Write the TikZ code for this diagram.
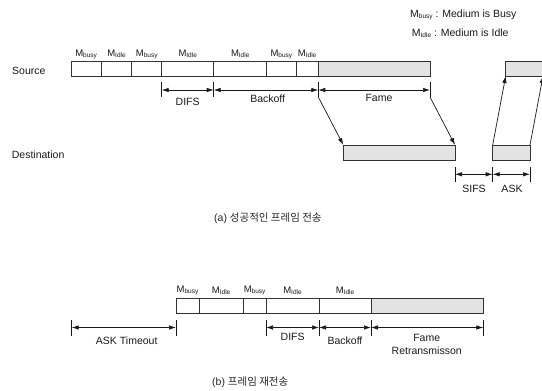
\documentclass[tikz,border=0pt]{standalone}
\usepackage{fontspec}
\setmainfont{Liberation Sans}
\newfontfamily\kofont{Noto Sans CJK KR}
\usetikzlibrary{arrows.meta}
\newcommand{\Msb}[1]{M\raisebox{-0.9pt}{\fontsize{6.5}{7}\selectfont #1}}
\begin{document}
\begin{tikzpicture}[x=1pt,y=-1pt,
  cellbox/.style={draw=black!80, line width=0.9pt, inner sep=0pt, outer sep=0pt, anchor=north west},
  framebox/.style={draw=black!80, fill=black!11, line width=0.9pt, inner sep=0pt, outer sep=0pt, anchor=north west},
  txt/.style={font=\fontsize{10.5}{12}\selectfont, inner sep=0pt, text=black!90},
  mlbl/.style={font=\fontsize{9.5}{11}\selectfont, inner sep=0pt, text=black!90},
  captxt/.style={font=\fontsize{10.5}{12}\selectfont, inner sep=0pt, text=black!85, anchor=west},
  dimline/.style={{Latex[length=7pt,width=4.5pt]}-{Latex[length=7pt,width=4.5pt]}, line width=0.7pt, draw=black!90},
  tickline/.style={line width=0.7pt, draw=black!90},
  sendarrow/.style={-{Latex[length=7pt,width=4.5pt]}, line width=0.7pt, draw=black!90}]
\clip (0,0) rectangle (542,391);

% ---------- legend ----------
\node[txt, anchor=west] (leg1) at (410,15) {\Msb{busy} : Medium is Busy};
\node[txt, anchor=west] (leg2) at (411.7,33) {\Msb{Idle} : Medium is Idle};

% ---------- (a) ----------
\node[txt, anchor=west] (src) at (12,70.7) {Source};
\node[txt, anchor=west] (dst) at (11.7,155) {Destination};

% source cells
\foreach \a/\b/\l [count=\i] in {71/101.3/busy, 101.3/131.7/Idle, 131.7/161.7/busy, 161.7/213.7/Idle, 213.7/266.7/Idle, 266.7/296/busy, 296/318.3/Idle}{
  \node[cellbox, minimum width={(\b-\a)*1pt}, minimum height=14.5pt] (sc\i) at (\a,61.5) {};
  \node[mlbl] (sl\i) at ({(\a+\b)/2},54) {\Msb{\l}};
}
\node[framebox, minimum width=111.7pt, minimum height=14.5pt] (sf) at (318.3,61.5) {};
\node[framebox, minimum width=40pt, minimum height=14.5pt] (sa) at (505.7,61.5) {};

% destination frames
\node[framebox, minimum width=111.7pt, minimum height=15pt] (df) at (343.3,145) {};
\node[framebox, minimum width=37.3pt, minimum height=15pt] (da) at (492.7,145) {};

% ticks (a) top
\coordinate (t1a) at (161.7,81.5); \coordinate (t1b) at (161.7,97);
\coordinate (t2a) at (213.7,81.5); \coordinate (t2b) at (213.7,97);
\coordinate (t3a) at (318.3,81.5); \coordinate (t3b) at (318.3,97);
\coordinate (t4a) at (430,81.5);   \coordinate (t4b) at (430,97);
\foreach \k in {1,2,3,4} \draw[tickline] (t\k a) -- (t\k b);
\draw[dimline] (161.7,90) -- (213.7,90);
\draw[dimline] (213.7,90) -- (318.3,90);
\draw[dimline] (318.3,90) -- (430,90);
\node[txt] (difsa) at (187.7,102) {DIFS};
\node[txt] (backa) at (267.7,99) {Backoff};
\node[txt] (famea) at (379,98) {Fame};

% frame transfer arrows
\draw[sendarrow] (t3b) -- (df.north west);
\draw[sendarrow] (t4b) -- (df.north east);
\coordinate (sat2) at (543,76);
\draw[sendarrow] (da.north west) -- (sa.south west);
\draw[sendarrow] (da.north east) -- (sat2);

% ticks (a) bottom
\coordinate (u1a) at (455,166.5); \coordinate (u1b) at (455,182);
\coordinate (u2a) at (492.7,166.5); \coordinate (u2b) at (492.7,182);
\coordinate (u3a) at (530,166.5); \coordinate (u3b) at (530,182);
\foreach \k in {1,2,3} \draw[tickline] (u\k a) -- (u\k b);
\draw[dimline] (455,174.3) -- (492.7,174.3);
\draw[dimline] (492.7,174.3) -- (530,174.3);
\node[txt] (sifs) at (474,189.3) {SIFS};
\node[txt] (ask) at (512,189.3) {ASK};

\node[captxt] (capa) at (214,218) {(a) {\kofont 성공적인 프레임 전송}};

% ---------- (b) ----------
\foreach \a/\b/\l [count=\i] in {176/199/busy, 199/243.3/Idle, 243.3/266/busy, 266/319/Idle, 319/371/Idle}{
  \node[cellbox, minimum width={(\b-\a)*1pt}, minimum height=15pt] (rc\i) at (\a,298.3) {};
  \node[mlbl] (rl\i) at ({(\a+\b)/2},290.7) {\Msb{\l}};
}
\node[framebox, minimum width=112.3pt, minimum height=15pt] (rf) at (371,298.3) {};

\coordinate (v0a) at (71.7,320); \coordinate (v0b) at (71.7,335.5);
\coordinate (v1a) at (176,320); \coordinate (v1b) at (176,335.5);
\coordinate (v2a) at (266,320); \coordinate (v2b) at (266,335.5);
\coordinate (v3a) at (319,320); \coordinate (v3b) at (319,335.5);
\coordinate (v4a) at (371,320); \coordinate (v4b) at (371,335.5);
\coordinate (v5a) at (483.3,320); \coordinate (v5b) at (483.3,335.5);
\foreach \k in {0,1,2,3,4,5} \draw[tickline] (v\k a) -- (v\k b);
\draw[dimline] (71.7,327.5) -- (176,327.5);
\draw[dimline] (266,327.5) -- (319,327.5);
\draw[dimline] (319,327.5) -- (371,327.5);
\draw[dimline] (371,327.5) -- (483.3,327.5);
\node[txt] (askto) at (126.7,341) {ASK Timeout};
\node[txt] (difsb) at (292.7,336.7) {DIFS};
\node[txt] (backb) at (345,340.7) {Backoff};
\node[txt, align=center] (fameb) at (426.7,344.2) {Fame\\[1.2pt]Retransmisson};

\node[captxt] (capb) at (212,382) {(b) {\kofont 프레임 재전송}};
\end{tikzpicture}
\end{document}
